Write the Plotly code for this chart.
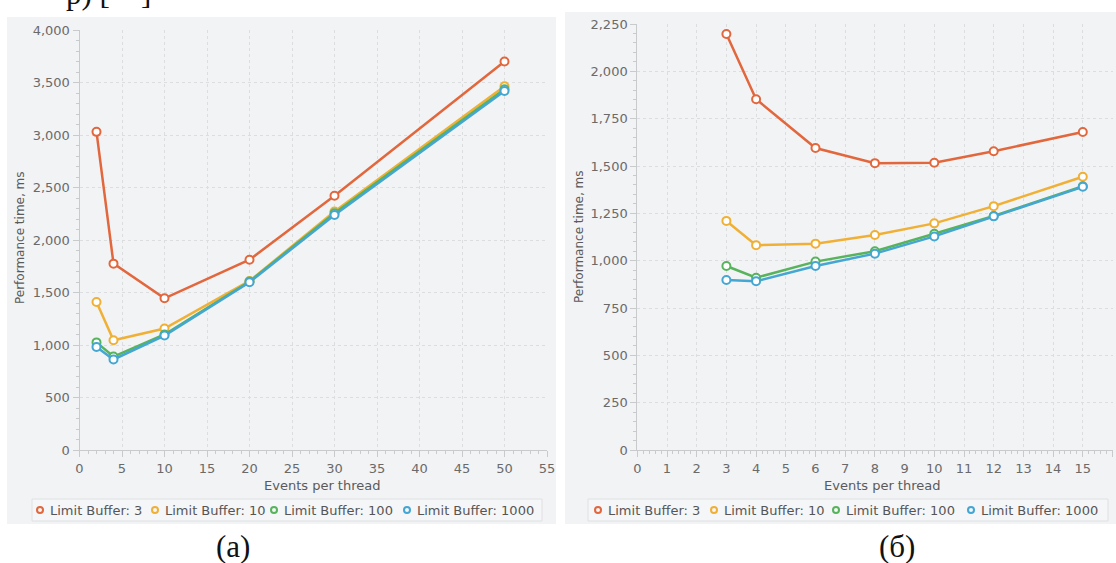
import plotly.graph_objects as go

W, H = 1116, 563

# ---- data ----
series_names = ["Limit Buffer: 3", "Limit Buffer: 10", "Limit Buffer: 100", "Limit Buffer: 1000"]
colors = ["#e2673d", "#f0b035", "#57b35c", "#44a6d2"]

xa = [2, 4, 10, 20, 30, 50]
a_lb3 = [3030, 1775, 1445, 1812, 2422, 3700]
a_lb10 = [1410, 1045, 1157, 1610, 2272, 3465]
a_lb100 = [1025, 890, 1100, 1605, 2255, 3435]
a_lb1000 = [982, 862, 1090, 1598, 2238, 3420]

xb = [3, 4, 6, 8, 10, 12, 15]
b_lb3 = [2197, 1853, 1595, 1515, 1517, 1578, 1680]
b_lb10 = [1210, 1082, 1090, 1136, 1197, 1288, 1443]
b_lb100 = [972, 910, 995, 1050, 1142, 1236, 1393]
b_lb1000 = [898, 891, 972, 1037, 1128, 1234, 1390]

x_title = "Events per thread"
y_title = "Performance time, ms"
panel_labels = ["(a)", "(б)"]
top_fragment = "р) [    ]"

# legend layout (pixel positions of symbol centres in each panel's legend)
legend_sym_left = [40, 155, 274, 407]
legend_sym_right = [598, 714, 836, 971]
legend_box_left = (32, 542)
legend_box_right = (588, 1108)
legend_box_y = (499, 521)

def px_x(p):
    return p / W

def px_y(p):
    return (H - p) / H

FONT = "'DejaVu Sans', Verdana, sans-serif"
SERIF = "'Liberation Serif', 'DejaVu Serif', serif"
TICK_COLOR = "#6a6a6a"
AX_COLOR = "#c9cacc"

fig = go.Figure()

for vals, name, col in zip([a_lb3, a_lb10, a_lb100, a_lb1000], series_names, colors):
    fig.add_trace(go.Scatter(
        x=xa, y=vals, mode="lines+markers", name=name, showlegend=False,
        line=dict(color=col, width=2.5),
        marker=dict(symbol="circle", size=8, color="white", line=dict(color=col, width=2)),
        xaxis="x", yaxis="y"))

for vals, name, col in zip([b_lb3, b_lb10, b_lb100, b_lb1000], series_names, colors):
    fig.add_trace(go.Scatter(
        x=xb, y=vals, mode="lines+markers", name=name, showlegend=False,
        line=dict(color=col, width=2.5),
        marker=dict(symbol="circle", size=8, color="white", line=dict(color=col, width=2)),
        xaxis="x2", yaxis="y2"))

axis_common = dict(
    showline=True, linecolor=AX_COLOR, linewidth=1,
    showgrid=True, gridcolor="#dcdddf", griddash="3px,3px", gridwidth=1,
    zeroline=False, ticks="outside", ticklen=6, tickcolor=AX_COLOR,
    tickfont=dict(family=FONT, size=13, color=TICK_COLOR),
    fixedrange=True, automargin=False,
)

shapes = [
    dict(type="rect", xref="paper", yref="paper", layer="below",
         x0=px_x(7), x1=px_x(556), y0=px_y(524), y1=px_y(17),
         fillcolor="#f2f3f5", line=dict(width=0)),
    dict(type="rect", xref="paper", yref="paper", layer="below",
         x0=px_x(565), x1=px_x(1120), y0=px_y(524), y1=px_y(12),
         fillcolor="#f2f3f5", line=dict(width=0)),
]
ann = []

# legends (one per panel)
ly = (legend_box_y[0] + legend_box_y[1]) / 2
for box, syms in [(legend_box_left, legend_sym_left), (legend_box_right, legend_sym_right)]:
    shapes.append(dict(type="rect", xref="paper", yref="paper", layer="below",
                       x0=px_x(box[0]), x1=px_x(box[1]),
                       y0=px_y(legend_box_y[1]), y1=px_y(legend_box_y[0]),
                       fillcolor="#f5f6f8", line=dict(color="#dfe0e2", width=1)))
    for cx, name, col in zip(syms, series_names, colors):
        shapes.append(dict(type="circle", xref="paper", yref="paper", layer="above",
                           x0=px_x(cx - 3), x1=px_x(cx + 3), y0=px_y(ly + 3), y1=px_y(ly - 3),
                           fillcolor="rgba(0,0,0,0)", line=dict(color=col, width=2)))
        ann.append(dict(text=name, xref="paper", yref="paper", x=px_x(cx + 8), y=px_y(ly),
                        xanchor="left", yanchor="middle", showarrow=False,
                        font=dict(family=FONT, size=13, color="#555555")))

fig.update_layout(
    width=W, height=H,
    margin=dict(l=0, r=0, t=0, b=0, autoexpand=False),
    paper_bgcolor="white",
    plot_bgcolor="rgba(0,0,0,0)",
    showlegend=False,
    font=dict(family=FONT, color="#5a5a5a"),
    xaxis=dict(domain=[px_x(79.5), px_x(547)], range=[0, 55], dtick=5, tick0=0,
               minor=dict(dtick=1, ticks="outside", ticklen=3, tickcolor=AX_COLOR, showgrid=False),
               anchor="y", **axis_common),
    yaxis=dict(domain=[px_y(450), px_y(30)], range=[0, 4000], dtick=500, tickformat=",",
               minor=dict(dtick=100, ticks="outside", ticklen=3, tickcolor=AX_COLOR, showgrid=False),
               anchor="x", **axis_common),
    xaxis2=dict(domain=[px_x(637.3), px_x(1112.5)], range=[0, 16], dtick=1, tick0=0,
                minor=dict(dtick=0.2, ticks="outside", ticklen=3, tickcolor=AX_COLOR, showgrid=False),
                anchor="y2", **axis_common),
    yaxis2=dict(domain=[px_y(450), px_y(24)], range=[0, 2250], dtick=250, tickformat=",",
                minor=dict(dtick=50, ticks="outside", ticklen=3, tickcolor=AX_COLOR, showgrid=False),
                anchor="x2", **axis_common),
    shapes=shapes,
)

ann.append(dict(text=x_title, xref="paper", yref="paper", x=px_x(322), y=px_y(485),
                xanchor="center", yanchor="middle", showarrow=False,
                font=dict(family=FONT, size=13, color="#5a5a5a")))
ann.append(dict(text=x_title, xref="paper", yref="paper", x=px_x(882), y=px_y(485),
                xanchor="center", yanchor="middle", showarrow=False,
                font=dict(family=FONT, size=13, color="#5a5a5a")))
ann.append(dict(text=y_title, xref="paper", yref="paper", x=px_x(20), y=px_y(238),
                xanchor="center", yanchor="middle", showarrow=False, textangle=-90,
                font=dict(family=FONT, size=12, color="#5a5a5a")))
ann.append(dict(text=y_title, xref="paper", yref="paper", x=px_x(579), y=px_y(237),
                xanchor="center", yanchor="middle", showarrow=False, textangle=-90,
                font=dict(family=FONT, size=12, color="#5a5a5a")))
ann.append(dict(text=panel_labels[0], xref="paper", yref="paper", x=px_x(233), y=px_y(546),
                xanchor="center", yanchor="middle", showarrow=False,
                font=dict(family=SERIF, size=31, color="#111111")))
ann.append(dict(text=panel_labels[1], xref="paper", yref="paper", x=px_x(897), y=px_y(546),
                xanchor="center", yanchor="middle", showarrow=False,
                font=dict(family=SERIF, size=31, color="#111111")))
ann.append(dict(text=top_fragment, xref="paper", yref="paper", x=px_x(64), y=px_y(13),
                xanchor="left", yanchor="bottom", showarrow=False,
                font=dict(family=SERIF, size=31, color="#111111")))

fig.update_layout(annotations=ann)

fig.write_html("out.html",
               config={"displayModeBar": False, "staticPlot": True},
               post_script="document.body.style.margin='0';document.body.style.overflow='hidden';")
